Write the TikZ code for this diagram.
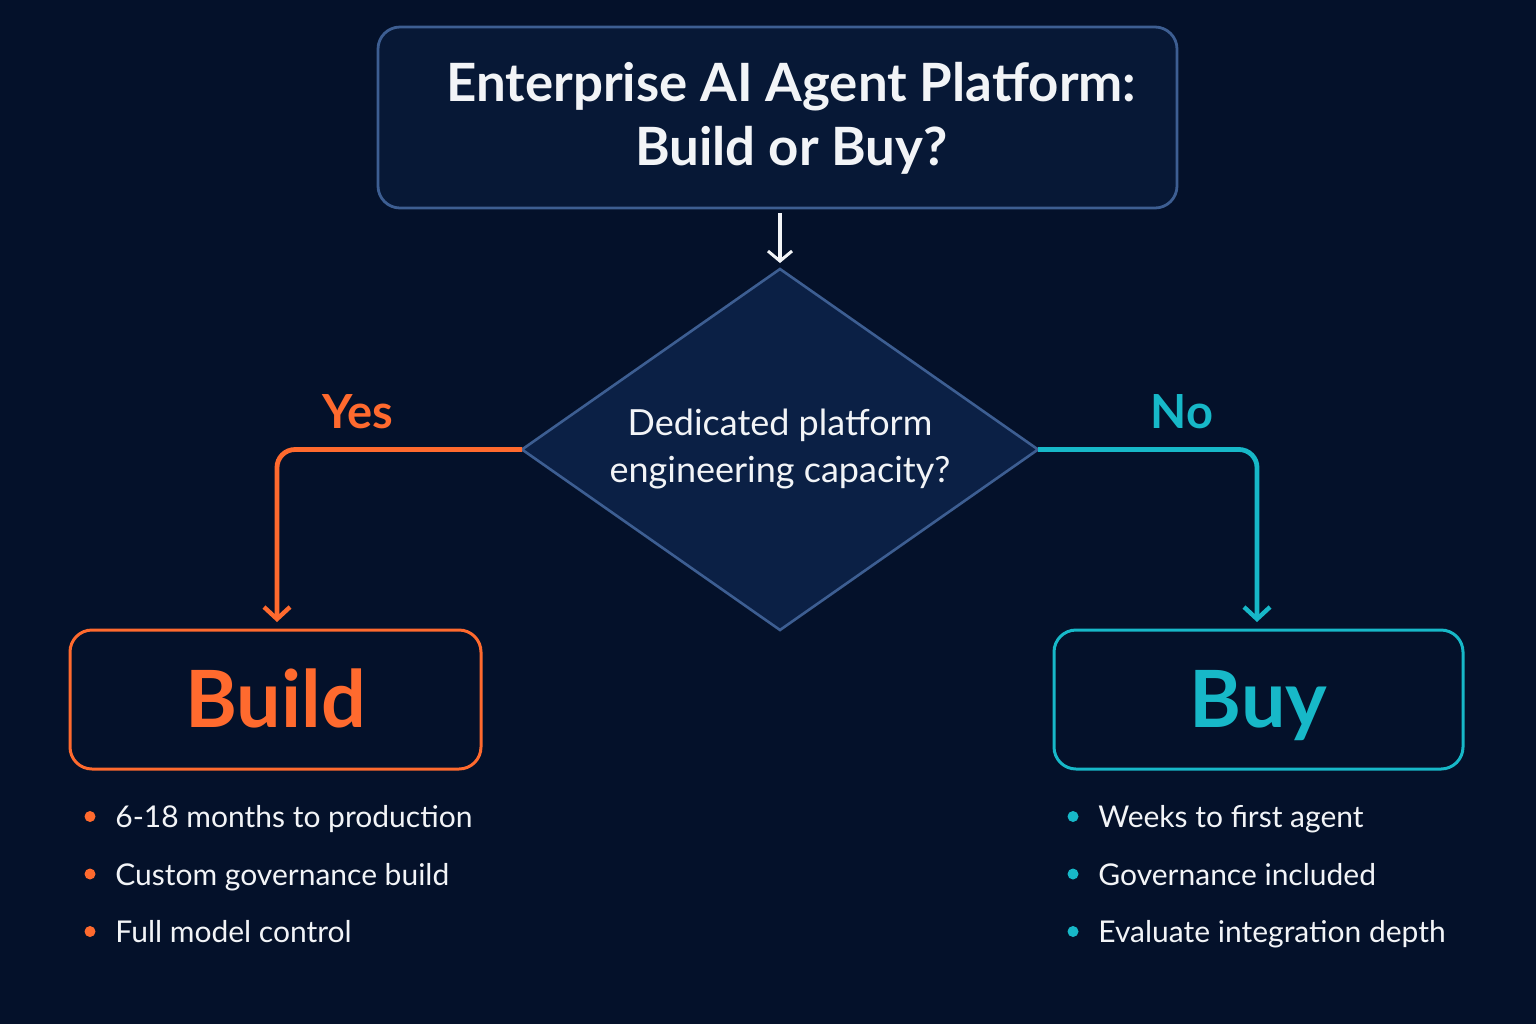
\documentclass[tikz,border=0pt]{standalone}
\usepackage{fontspec}
\setmainfont{Lato}
\usepackage{xcolor}
\usetikzlibrary{arrows.meta, positioning, calc, shapes.geometric}

\definecolor{bgnavy}{HTML}{04112A}
\definecolor{boxnavy}{HTML}{071836}
\definecolor{diamnavy}{HTML}{0B2045}
\definecolor{edgeblue}{HTML}{3D5E92}
\definecolor{buildorange}{HTML}{FF6A2E}
\definecolor{buycyan}{HTML}{17B8C8}
\definecolor{softwhite}{HTML}{F2F4F7}

\tikzset{
    titlebox/.style={draw=edgeblue, line width=1.4pt, fill=boxnavy, rounded corners=11pt,
        minimum width=399.5pt, minimum height=90.5pt},
    titletext/.style={align=center, text=softwhite, inner sep=0pt,
        font=\bfseries\fontsize{26.4}{32}\selectfont},
    question/.style={diamond, aspect=1.43, draw=edgeblue, line width=1.3pt, fill=diamnavy,
        minimum width=258pt, minimum height=180.5pt, inner sep=0pt, outer sep=0pt,
        align=center, text=softwhite, font=\fontsize{18}{23.5}\selectfont},
    choicebox/.style={draw=#1, line width=1.5pt, rounded corners=11pt, fill=bgnavy,
        minimum height=69.5pt, text height=28pt, text depth=0pt, text=#1,
        font=\bfseries\fontsize{39.5}{44}\selectfont},
    branch/.style={draw=#1, line width=2.4pt, rounded corners=9pt,
        -{Straight Barb[length=6pt, width=13pt, line width=2.2pt]}},
    answer/.style={text=#1, font=\bfseries\fontsize{23.5}{26}\selectfont},
    point/.style={anchor=base west, text=softwhite, inner sep=0pt,
        font=\fontsize{15}{18}\selectfont}
}

\begin{document}
\begin{tikzpicture}[x=0.5pt, y=-0.5pt]
    \fill[bgnavy] (0,0) rectangle (1536,1024);
    \useasboundingbox (0,0) rectangle (1536,1024);

    % top of the flow
    \node[titlebox, label={[titletext, xshift=7pt, yshift=-0.5pt]center:{Enterprise AI Agent Platform:\\Build or Buy?}}]
        (title) at (777.5,117.5) {};
    \node[question] (cap) at (780,449.5) {Dedicated platform\\engineering capacity?};
    \draw[draw=softwhite, line width=1.6pt, shorten <=2pt, shorten >=3pt,
        -{Straight Barb[length=5pt, width=12pt, line width=1.5pt]}] (title.south -| cap.north) -- (cap.north);

    % the two outcomes
    \node[choicebox=buildorange, minimum width=205.5pt] (build) at (275.5,699.5) {Build};
    \node[choicebox=buycyan, minimum width=204.5pt] (buy) at (1258.5,699.5) {Buy};

    \coordinate (buildtop) at (277,630);
    \coordinate (buytop) at (1257,630);
    \draw[branch=buildorange, shorten >=4pt] (cap.west) -| (buildtop);
    \draw[branch=buycyan, shorten >=4pt] (cap.east) -| (buytop);
    \node[answer=buildorange] (yes) at (358,412) {Yes};
    \node[answer=buycyan] (no) at (1182,412) {No};

    % what each path means
    \foreach \txt [count=\i] in {6-18 months to production, Custom governance build, Full model control} {
        \fill[buildorange] (90,{759+57.5*\i}) circle (5.5);
        \node[point] (buildpt\i) at (115,{770+57.5*\i}) {\txt};
    }
    \foreach \txt [count=\i] in {Weeks to first agent, Governance included, Evaluate integration depth} {
        \fill[buycyan] (1073,{759+57.5*\i}) circle (5.5);
        \node[point] (buypt\i) at (1098,{770+57.5*\i}) {\txt};
    }
\end{tikzpicture}
\end{document}
